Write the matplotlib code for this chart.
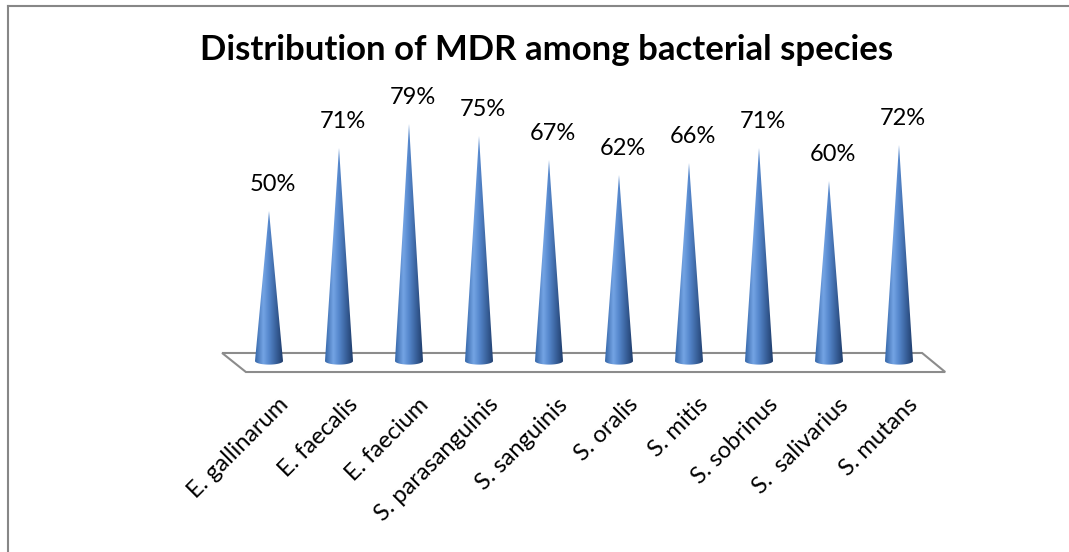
import numpy as np
import matplotlib
matplotlib.use("Agg")
import matplotlib.pyplot as plt
from matplotlib.path import Path
from matplotlib.patches import PathPatch, Polygon
from matplotlib.lines import Line2D
from matplotlib.colors import LinearSegmentedColormap

species = ["E. gallinarum", "E. faecalis", "E. faecium", "S. parasanguinis",
           "S. sanguinis", "S. oralis", "S. mitis", "S. sobrinus",
           "S.  salivarius", "S. mutans"]
mdr_pct = [50, 71, 79, 75, 67, 62, 66, 71, 60, 72]
title = "Distribution of MDR among bacterial species"

plt.rcParams['font.family'] = ['Lato', 'DejaVu Sans']

fig = plt.figure(figsize=(10.69, 5.52), dpi=100)
ax = fig.add_axes([234/1069, 101/552, 700/1069, 390/552])
ax.set_xlim(-0.5, len(species) - 0.5)
ax.set_ylim(-30, 100)
ax.axis('off')

# floor of the 3d plot
n = len(species)
floor = Polygon([(-0.67, 2.67), (n - 0.67, 2.67), (n - 0.34, -3.67), (-0.33, -3.67)],
                closed=True, facecolor='white', edgecolor='#8c8c8c', lw=1.5,
                zorder=1, clip_on=False)
ax.add_patch(floor)

cmap = LinearSegmentedColormap.from_list(
    'cone', [(0.0, '#3566a8'), (0.3, '#74a4e4'), (0.5, '#5587cc'), (1.0, '#1f3d6c')])
grad = np.tile(np.linspace(0, 1, 256), (2, 1))

w = 0.2    # half base width
eh = 1.2   # half height of base ellipse
for i, v in enumerate(mdr_pct):
    t = np.linspace(np.pi, 2 * np.pi, 40)
    ex = i + w * np.cos(t[::-1])
    ey = eh * np.sin(t[::-1])
    verts = [(i - w, 0), (i, v), (i + w, 0)] + list(zip(ex, ey)) + [(i - w, 0)]
    codes = [Path.MOVETO] + [Path.LINETO] * (len(verts) - 2) + [Path.CLOSEPOLY]
    patch = PathPatch(Path(verts, codes), facecolor='none', edgecolor='none')
    ax.add_patch(patch)
    im = ax.imshow(grad, cmap=cmap, extent=[i - w, i + w, -eh, v],
                   aspect='auto', zorder=2, interpolation='bilinear')
    im.set_clip_path(patch)
    ax.text(i + 0.06, v + 5.3, f"{v}%", ha='center', va='bottom', fontsize=17)
    ax.text(i + 0.12, -11, species[i], rotation=45, rotation_mode='anchor',
            ha='right', va='top', fontsize=17)

ax.set_xlim(-0.5, n - 0.5)
ax.set_ylim(-30, 100)

fig.text(547/1069, 1 - 50/552, title, ha='center', va='center',
         fontsize=25, fontweight='bold')

# chart frame (only left and top edges fall inside the picture)
x0, y0 = 7.5/1069, 1 - 5.5/552
fig.add_artist(Line2D([x0, x0], [0, y0], transform=fig.transFigure,
                      color='#878787', lw=1.5))
fig.add_artist(Line2D([x0, 1], [y0, y0], transform=fig.transFigure,
                      color='#878787', lw=1.5))

fig.savefig("out.png", dpi=100)
